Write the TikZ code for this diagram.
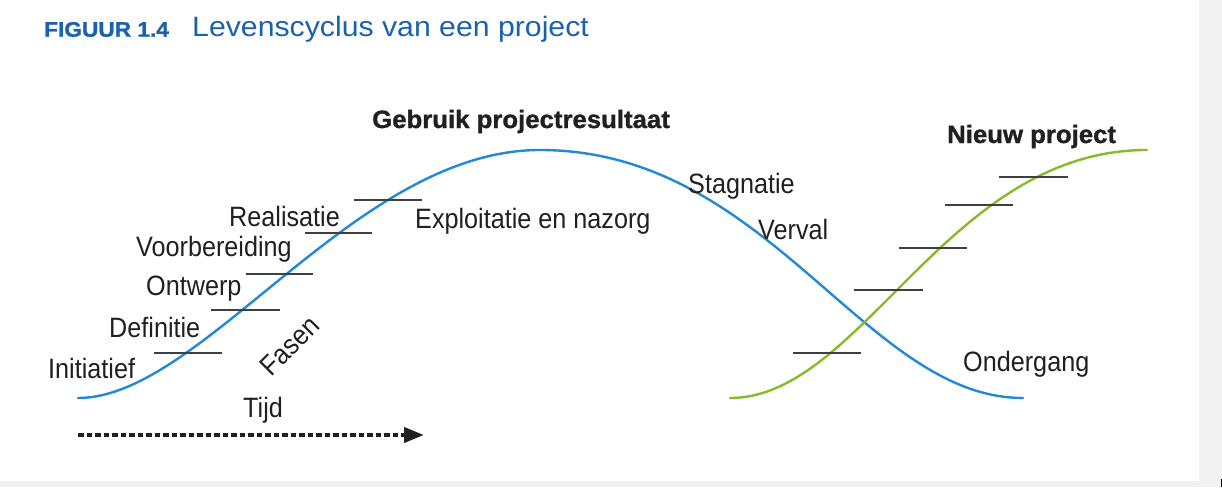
\documentclass[tikz,border=0pt]{standalone}
\usepackage{fontspec}
\setmainfont{Liberation Sans}
\newfontfamily\condfont{Liberation Sans}[FakeStretch=0.9]
\newfontfamily\heavyfont{Liberation Sans}[FakeStretch=1.03,BoldFeatures={FakeBold=1.2}]
\newfontfamily\titlefont{Liberation Sans}[FakeStretch=1.08]
\newfontfamily\figfont{Liberation Sans}[FakeStretch=1.08,BoldFeatures={FakeBold=1.2}]
\usetikzlibrary{arrows.meta}
\definecolor{titleblue}{HTML}{1A62AE}
\definecolor{curveblue}{HTML}{2289D3}
\definecolor{curvegreen}{HTML}{86BC2A}
\definecolor{txt}{HTML}{231F20}
\definecolor{tickgray}{HTML}{3F3F3F}
\definecolor{bandgray}{HTML}{F2F2F2}
\begin{document}
\begin{tikzpicture}[x=1pt,y=-1pt,
  lab/.style={anchor=base west,inner sep=0pt,text=txt,font=\condfont\fontsize{28}{32}\selectfont},
  boldlab/.style={anchor=base west,inner sep=0pt,text=txt,font=\heavyfont\bfseries\fontsize{25}{30}\selectfont},
  tick/.style={draw=tickgray,line width=1.5pt},
  lifecurve/.style={line width=2.4pt,line cap=round},
  timeline/.style={line width=4pt,draw=txt,dash pattern=on 5.5pt off 3pt,-{Triangle[length=20pt,width=15pt]}}]
% background and margins
\fill[bandgray] (0,0) rectangle (1222,487);
\fill[white] (0,0) rectangle (1199,480.5);
\fill[black] (1220.5,479) rectangle (1222,487);
\useasboundingbox (0,0) rectangle (1222,487);
% title
\node[anchor=base west,inner sep=0pt,text=titleblue,font=\figfont\bfseries\fontsize{21}{25}\selectfont] (fig) at (44,36.7) {FIGUUR 1.4};
\node[anchor=base west,inner sep=0pt,text=titleblue,font=\titlefont\fontsize{28}{32}\selectfont] (title) at (192,36.7) {Levenscyclus van een project};
% blue life cycle curve
\draw[lifecurve,curveblue] (78,398) .. controls (203,398) and (355,150) .. (540,150)
  .. controls (769,150) and (865,398) .. (1023,398);
% green new project curve
\draw[lifecurve,curvegreen] (730,398) .. controls (862,398) and (947,150) .. (1147,150);
% phase ticks left
\draw[tick] (154,353) -- (222,353);
\draw[tick] (211,310) -- (280,310);
\draw[tick] (246,274) -- (313,274);
\draw[tick] (305,233) -- (372,233);
\draw[tick] (354,200) -- (422,200);
% phase ticks right
\draw[tick] (793,353) -- (861,353);
\draw[tick] (854,290) -- (923,290);
\draw[tick] (899,248) -- (967,248);
\draw[tick] (945,205) -- (1013,205);
\draw[tick] (999,177) -- (1068,177);
% labels
\node[lab] (init) at (48,378) {Initiatief};
\node[lab] (def) at (109,337) {Definitie};
\node[lab] (ontw) at (146,295) {Ontwerp};
\node[lab] (voor) at (136,256) {Voorbereiding};
\node[lab] (real) at (229,226) {Realisatie};
\node[lab] (expl) at (415,228) {Exploitatie en nazorg};
\node[lab] (stag) at (688,193) {Stagnatie};
\node[lab] (verv) at (758,239.5) {Verval};
\node[lab] (onder) at (963,371) {Ondergang};
\node[lab,anchor=center,rotate=45] (fasen) at (290,346) {Fasen};
\node[lab] (tijd) at (243,417) {Tijd};
\node[boldlab] (gebr) at (372,128) {Gebruik projectresultaat};
\node[boldlab] (nieuw) at (947,143) {Nieuw project};
% time arrow
\coordinate (tstart) at (78,435);
\coordinate (tend) at (424,435);
\draw[timeline] (tstart) -- (tend);
\end{tikzpicture}
\end{document}
